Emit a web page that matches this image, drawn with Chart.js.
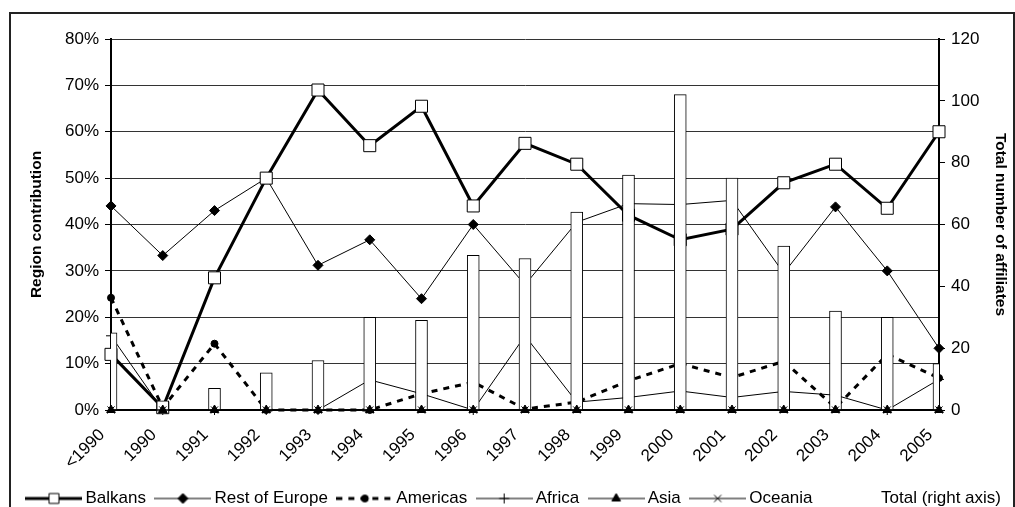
<!DOCTYPE html>
<html>
<head>
<meta charset="utf-8">
<script src="https://cdn.jsdelivr.net/npm/chart.js@4/dist/chart.umd.min.js"></script>
<style>
  body { margin: 0; background: #fff; }
</style>
</head>
<body>
<canvas id="chart" width="1015" height="507"></canvas>
<script>
var ctx = document.getElementById('chart').getContext('2d');

var years = ['<1990', '1990', '1991', '1992', '1993', '1994', '1995', '1996', '1997',
             '1998', '1999', '2000', '2001', '2002', '2003', '2004', '2005'];

// region shares, in percent (left axis)
var balkans      = [12, 0.5, 28.5, 50, 69, 57, 65.5, 44, 57.5, 53, 42, 36.7, 39, 49, 53, 43.5, 60];
var restOfEurope = [44, 33.3, 43, 50, 31.2, 36.7, 24, 40, 27, 40.5, 44.5, 44.3, 45.2, 29.5, 43.8, 30, 13.3];
var americas     = [24.2, 0.5, 14.3, 0, 0, 0, 3.5, 6, 0.2, 1.7, 6.3, 10, 7, 10.5, 0.5, 12, 6.9];
var africa       = [16, 0, 0, 0, 0, 6.5, 3.5, 0, 16, 1.7, 2.7, 4.1, 2.7, 4, 3.2, 0, 6.6];
var asia         = [0, 0, 0, 0, 0, 0, 0, 0, 0, 0, 0, 0, 0, 0, 0, 0, 0];
var oceania      = [0, 0, 0, 0, 0, 0, 0, 0, 0, 0, 0, 0, 0, 0, 0, 0, 0];

// total number of affiliates (right axis)
var totalAffiliates = [25, 3, 7, 12, 16, 30, 29, 50, 49, 64, 76, 102, 75, 53, 32, 30, 15];

Chart.defaults.font.family = '"Liberation Sans", Arial, sans-serif';
Chart.defaults.color = '#000';

var tickFont = { size: 17 };
var titleFont = { size: 15.5, weight: 'bold' };
var legendDrop = 10;   // pushes the legend row down to the frame's bottom

function lineSet(label, data, style) {
  return Object.assign({
    type: 'line',
    label: label,
    data: data,
    yAxisID: 'y',
    borderColor: '#000',
    borderWidth: 1,
    pointBorderColor: '#000',
    pointBackgroundColor: '#000',
    pointBorderWidth: 1,
    tension: 0,
    clip: false,
    order: 1
  }, style);
}

var datasets = [
  lineSet('Balkans', balkans, { borderWidth: 3, pointStyle: 'rect', pointRadius: 8.5, pointBackgroundColor: '#fff' }),
  lineSet('Rest of Europe', restOfEurope, { pointStyle: 'rectRot', pointRadius: 5 }),
  lineSet('Americas', americas, { borderWidth: 3, borderDash: [6, 6], pointStyle: 'circle', pointRadius: 3.5 }),
  lineSet('Africa', africa, { pointStyle: 'cross', pointRadius: 5 }),
  lineSet('Asia', asia, { pointStyle: 'triangle', pointRadius: 5, order: -1 }),
  lineSet('Oceania', oceania, { pointStyle: 'crossRot', pointRadius: 5, order: -1 }),
  {
    type: 'bar',
    label: 'Total (right axis)',
    data: totalAffiliates,
    yAxisID: 'y1',
    backgroundColor: '#fff',
    borderColor: '#000',
    borderWidth: 1,
    barThickness: 12,
    clip: 0,
    order: 0
  }
];

// legend samples: a short line with the marker in the middle
function makeSample(ds) {
  var c = document.createElement('canvas');
  c.width = 57; c.height = 16;
  if (ds.type === 'bar') return c;
  var g = c.getContext('2d');
  g.strokeStyle = '#000';
  g.lineWidth = ds.borderWidth;
  g.setLineDash(ds.borderDash || []);
  g.beginPath(); g.moveTo(0, 8); g.lineTo(57, 8); g.stroke();
  g.setLineDash([]);
  g.lineWidth = 1;
  g.fillStyle = ds.pointBackgroundColor;
  Chart.helpers.drawPoint(g, { pointStyle: ds.pointStyle, radius: Math.min(ds.pointRadius, 7), rotation: 0, borderWidth: 1 }, 28.5, 8);
  return c;
}
var samples = datasets.map(makeSample);

var frame = {
  id: 'frame',
  beforeDraw: function(chart) {
    var c = chart.ctx;
    c.save();
    c.fillStyle = '#fff';
    c.fillRect(0, 0, chart.width, chart.height);
    c.strokeStyle = '#222';
    c.lineWidth = 2;
    c.strokeRect(10, 13, 1004, 520);
    c.restore();
  }
};

new Chart(ctx, {
  type: 'bar',
  data: { labels: years, datasets: datasets },
  plugins: [frame],
  options: {
    responsive: false,
    animation: false,
    layout: { padding: { top: 39, left: 0, right: 0, bottom: -legendDrop } },
    plugins: {
      tooltip: { enabled: false },
      legend: {
        position: 'bottom',
        align: 'end',
        labels: {
          usePointStyle: true,
          pointStyleWidth: 46,
          padding: 14,
          font: { size: 17 },
          color: '#000',
          generateLabels: function(chart) {
            return chart.data.datasets.map(function(ds, i) {
              return { text: ds.label, pointStyle: samples[i], datasetIndex: i,
                       fillStyle: '#fff', strokeStyle: '#fff', lineWidth: 0, hidden: false, fontColor: '#000' };
            });
          }
        }
      }
    },
    scales: {
      x: {
        offset: false,
        grid: { display: false },
        border: { display: true, color: '#000', width: 2 },
        ticks: { font: tickFont, minRotation: 45, maxRotation: 45, autoSkip: false, padding: 7, labelOffset: -9 },
        afterFit: function(s) {
          var lg = s.chart.legend ? s.chart.legend.height : 30;
          s.height = s.chart.height + legendDrop - 410 - lg;
          s.paddingLeft = 0; s.paddingRight = 0;
        }
      },
      y: {
        position: 'left',
        min: 0, max: 80,
        ticks: { stepSize: 10, font: tickFont, padding: 6, callback: function(v) { return v + '%'; } },
        grid: { color: '#333', tickLength: 6, tickColor: '#000' },
        border: { color: '#000', width: 2 },
        title: { display: true, text: 'Region contribution', font: titleFont, padding: { top: 27.7, bottom: 0 } },
        afterFit: function(s) { s.width = 111; s.paddingTop = 0; s.paddingBottom = 0; }
      },
      y1: {
        position: 'right',
        min: 0, max: 120,
        ticks: { stepSize: 20, font: tickFont, padding: 6 },
        grid: { drawOnChartArea: false, tickLength: 6, tickColor: '#000' },
        border: { color: '#000', width: 2 },
        title: { display: true, text: 'Total number of affiliates', font: titleFont, padding: { top: 5.7, bottom: 0 } },
        afterFit: function(s) { s.width = 76; s.paddingTop = 0; s.paddingBottom = 0; }
      }
    }
  }
});
</script>
</body>
</html>
